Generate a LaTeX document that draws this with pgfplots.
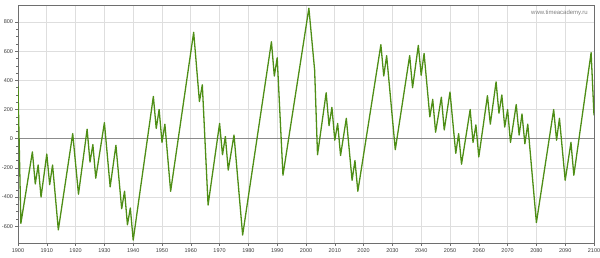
\documentclass[border=0pt]{standalone}
\usepackage{pgfplots}
\pgfplotsset{compat=1.18}
\usepackage{fontspec}
\setmainfont{Liberation Sans}
\definecolor{lgreen}{RGB}{78,142,22}
\definecolor{gridc}{RGB}{222,222,222}
\definecolor{axc}{RGB}{110,110,110}
\definecolor{zeroc}{RGB}{140,140,140}
\definecolor{tickc}{RGB}{60,60,60}
\begin{document}
\begin{tikzpicture}
\begin{axis}[
  scale only axis,
  width=576pt, height=238.3pt,
  xmin=1900, xmax=2100,
  ymin=-717, ymax=917,
  xtick={1900,1910,...,2100},
  ytick={-600,-400,...,800},
  minor y tick num=3,
  grid=major,
  major grid style={gridc, line width=0.8pt},
  axis line style={axc, line width=0.8pt},
  tick style={axc, line width=0.5pt},
  major tick length=2.5pt,
  minor tick length=1.5pt,
  tick align=outside,
  xtick pos=bottom, ytick pos=left,
  ticklabel style={font=\fontsize{5.5}{6}\selectfont, text=tickc},
  xticklabel style={yshift=1pt},
  yticklabel style={xshift=1pt},
  /pgf/number format/assume math mode=true,
  /pgf/number format/1000 sep={},
  clip=true,
]
\coordinate (sw) at (rel axis cs:0,0);
\coordinate (ne) at (rel axis cs:1,1);
\addplot[zeroc, line width=1.4pt, forget plot] coordinates {(1900,0) (2100,0)};
\addplot[lgreen, line width=1.3pt, line join=round] coordinates {
(1900,360) (1901,-580) (1905,-90) (1906,-310) (1907,-180) (1908,-400)
(1910,-105) (1911,-315) (1912,-180) (1914,-625) (1919,35) (1921,-380)
(1924,65) (1925,-160) (1926,-40) (1927,-270) (1930,110) (1932,-330)
(1934,-45) (1936,-480) (1937,-360) (1938,-590) (1939,-475) (1940,-695)
(1947,290) (1948,70) (1949,200) (1950,-25) (1951,100) (1953,-360)
(1961,730) (1963,255) (1964,370) (1966,-455) (1970,105) (1971,-110)
(1972,15) (1973,-215) (1975,25) (1978,-660) (1988,665) (1989,430)
(1990,555) (1992,-250) (2001,895) (2003,470) (2004,-110) (2007,315)
(2008,90) (2009,215) (2010,-10) (2011,105) (2012,-115) (2014,140)
(2016,-285) (2017,-150) (2018,-360) (2026,645) (2027,430) (2028,570)
(2031,-75) (2036,570) (2037,350) (2039,640) (2040,435) (2041,585)
(2043,150) (2044,270) (2045,45) (2047,285) (2048,60) (2050,320)
(2052,-100) (2053,35) (2054,-175) (2057,200) (2058,-25) (2059,95)
(2060,-125) (2063,295) (2064,100) (2066,390) (2067,175) (2068,300)
(2069,80) (2070,200) (2071,-25) (2073,235) (2074,25) (2075,170)
(2076,-35) (2077,100) (2080,-575) (2086,200) (2087,-10) (2088,140)
(2090,-285) (2092,-25) (2093,-250) (2099,590) (2100,160)
};
\node[anchor=north east, font=\fontsize{6}{7}\selectfont, text=gray, inner sep=0pt] at ([xshift=-6pt,yshift=-5pt]rel axis cs:1,1) {www.timeacademy.ru};
\end{axis}
\pgfresetboundingbox
\path ([xshift=-18pt,yshift=-13.7pt]sw) rectangle ([xshift=6pt,yshift=5pt]ne);
\end{tikzpicture}
\end{document}
